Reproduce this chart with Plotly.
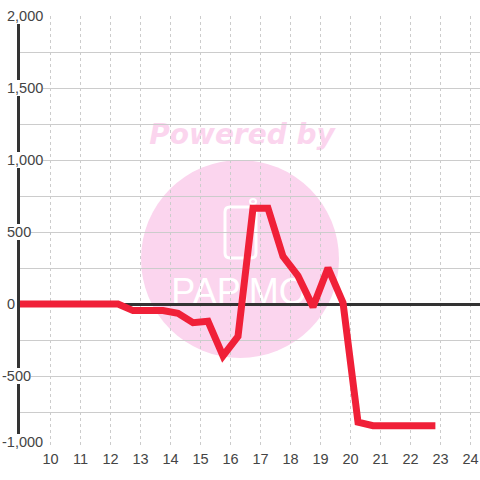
import plotly.graph_objects as go

W, H = 480, 480
ML, MR, MT, MB = 20, 0, 16, 32

hours = [8.9, 9.75, 10.75, 11.75, 12.25, 12.75, 13.25, 13.75, 14.25, 14.75, 15.25, 15.75,
         16.25, 16.75, 17.25, 17.75, 18.25, 18.75, 19.25, 19.75, 20.25, 20.75, 21.25, 21.75, 22.25, 22.83]
values = [0, 0, 0, 0, 0, -46, -46, -46, -65, -130, -120, -360,
          -225, 665, 665, 330, 195, -20, 250, 10, -820, -845, -845, -845, -845, -845]

y_ticks = [-1000, -500, 0, 500, 1000, 1500, 2000]
y_tick_labels = ["-1,000", "-500", "0", "500", "1,000", "1,500", "2,000"]
x_ticks = list(range(10, 25))
x_tick_labels = [str(v) for v in x_ticks]

INK = "#444444"
RED = "#F02038"
PINK = "#FBD5EE"
GRID = "#CCCCCC"
AXIS = "#333333"
FS = 14.5


def px(x):
    return (x - ML) / (W - ML - MR)


def py(y):
    return 1 - (y - MT) / (H - MT - MB)


def rounded(x0, y0, x1, y1, r):
    k = lambda a, b: f"{px(a):.5f},{py(b):.5f}"
    return (f"M{k(x0 + r, y0)} L{k(x1 - r, y0)} Q{k(x1, y0)} {k(x1, y0 + r)} "
            f"L{k(x1, y1 - r)} Q{k(x1, y1)} {k(x1 - r, y1)} L{k(x0 + r, y1)} "
            f"Q{k(x0, y1)} {k(x0, y1 - r)} L{k(x0, y0 + r)} Q{k(x0, y0)} {k(x0 + r, y0)} Z")


fig = go.Figure()
fig.add_trace(go.Scatter(
    x=hours, y=values, mode="lines", cliponaxis=False, hoverinfo="skip",
    line=dict(color=RED, width=7, shape="linear"), showlegend=False,
))

shapes = [
    dict(type="circle", xref="paper", yref="paper", layer="below",
         x0=px(141), x1=px(339), y0=py(358), y1=py(160),
         fillcolor=PINK, line=dict(width=0)),
    dict(type="path", xref="paper", yref="paper", layer="below",
         path=rounded(225, 207, 256, 258, 5),
         fillcolor="rgba(0,0,0,0)", line=dict(color="white", width=3)),
    dict(type="circle", xref="paper", yref="paper", layer="below",
         x0=px(250), x1=px(256), y0=py(204), y1=py(199),
         fillcolor="rgba(0,0,0,0)", line=dict(color="white", width=2)),
    dict(type="rect", xref="paper", yref="paper", layer="below",
         x0=px(140), x1=px(344), y0=py(150), y1=py(114),
         line=dict(width=0), fillcolor="rgba(0,0,0,0)",
         label=dict(text="Powered by", textposition="middle center",
                    font=dict(family="DejaVu Sans", size=28, color=PINK,
                              weight="bold", style="italic"))),
    dict(type="rect", xref="paper", yref="paper", layer="below",
         x0=px(165), x1=px(313), y0=py(311), y1=py(265),
         line=dict(width=0), fillcolor="rgba(0,0,0,0)",
         label=dict(text="PAPiMO", textposition="middle center",
                    font=dict(family="Liberation Sans", size=36, color="white"))),
]


def tick_annotation(v, t):
    return dict(text=t, x=px(2 if t.startswith("-") else 7), y=v, xref="paper", yref="y",
                xanchor="left", yanchor="middle", showarrow=False,
                yshift=6.5 if v == min(y_ticks) else 0,
                bgcolor="white", borderpad=0, borderwidth=0,
                font=dict(family="Liberation Sans", size=FS, color=INK))


annotations = [tick_annotation(v, t) for v, t in zip(y_ticks, y_tick_labels)]

fig.update_layout(
    width=W, height=H, autosize=False,
    margin=dict(l=ML, r=MR, t=MT, b=MB, pad=0),
    paper_bgcolor="white", plot_bgcolor="rgba(0,0,0,0)",
    showlegend=False, shapes=shapes, annotations=annotations,
    font=dict(family="Liberation Sans", size=FS, color=INK),
    xaxis=dict(range=[8.983, 24.317], tickmode="array", tickvals=x_ticks, ticktext=x_tick_labels,
               showgrid=True, gridcolor=GRID, gridwidth=1, griddash="3px,3px",
               zeroline=False, showline=False, ticks="", ticklen=0,
               tickfont=dict(family="Liberation Sans", size=FS, color=INK)),
    yaxis=dict(range=[-1000, 2000], tick0=0, dtick=250, tickmode="linear",
               showgrid=True, gridcolor=GRID, gridwidth=1,
               zeroline=True, zerolinecolor=AXIS, zerolinewidth=3,
               showline=True, linecolor=AXIS, linewidth=3, ticks="",
               showticklabels=False),
)

fig.write_html("out.html", config=dict(displayModeBar=False),
               post_script="document.body.style.margin='0';document.body.style.overflow='hidden';")
